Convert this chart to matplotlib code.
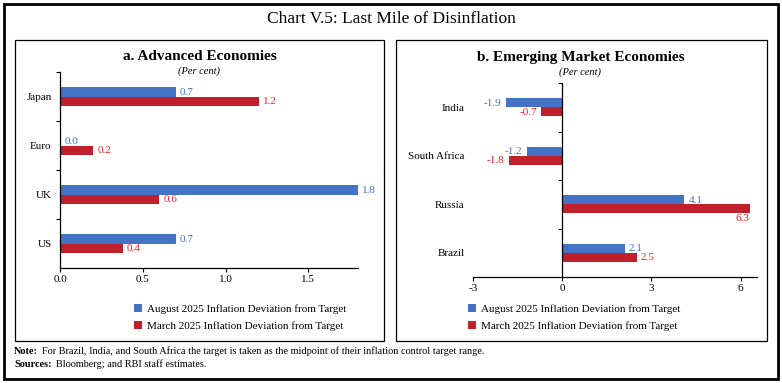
import matplotlib as mpl
import matplotlib.pyplot as plt
import numpy as np
from matplotlib.patches import Rectangle

W, H, DPI = 782, 383, 100

mpl.rcParams['font.family'] = 'serif'
mpl.rcParams['font.serif'] = ['Liberation Serif', 'DejaVu Serif']

BLUE = '#4472C4'
RED = '#C0202B'
BLUE_TXT = '#4472C4'
RED_TXT = '#F2202A'

# data
adv_countries = ['Japan', 'Euro', 'UK', 'US']
adv_aug = [0.7, 0.0, 1.8, 0.7]
adv_mar = [1.2, 0.2, 0.6, 0.38]
adv_ticks = [0.0, 0.5, 1.0, 1.5]

eme_countries = ['India', 'South Africa', 'Russia', 'Brazil']
eme_aug = [-1.9, -1.2, 4.1, 2.1]
eme_mar = [-0.7, -1.8, 6.3, 2.5]
eme_ticks = [-3, 0, 3, 6]

legend_labels = ['August 2025 Inflation Deviation from Target',
                 'March 2025 Inflation Deviation from Target']

FS = 8


def px_x(x):
    return x / W


def px_y(y):
    return 1 - y / H


def add_box(fig, x0, y0, x1, y1, lw):
    fig.patches.append(Rectangle((px_x(x0), px_y(y1)), px_x(x1) - px_x(x0),
                                 px_y(y0) - px_y(y1), transform=fig.transFigure,
                                 fill=False, edgecolor='black', linewidth=lw))


def draw_panel(ax, cats, aug, mar, ticks, xlim, fmt):
    y = np.arange(len(cats))
    bh = 0.185
    ax.barh(y - bh / 2, aug, height=bh, color=BLUE, label=legend_labels[0])
    ax.barh(y + bh / 2, mar, height=bh, color=RED, label=legend_labels[1])
    ax.set_xlim(*xlim)
    ax.set_ylim(len(cats) - 0.5, -0.5)

    for vals, off, col in ((aug, -bh / 2, BLUE_TXT), (mar, bh / 2, RED_TXT)):
        for i, v in enumerate(vals):
            txt = format(v, fmt)
            if v >= 0 and v > xlim[1] - 0.06 * (xlim[1] - xlim[0]) and col == RED_TXT:
                ax.annotate(txt, (v, i + off), xytext=(0, -4), textcoords='offset points',
                            ha='right', va='top', color=col, fontsize=FS)
            elif v >= 0:
                ax.annotate(txt, (v, i + off), xytext=(3, -0.5), textcoords='offset points',
                            ha='left', va='center', color=col, fontsize=FS)
            else:
                ax.annotate(txt, (v, i + off), xytext=(-3, -0.5), textcoords='offset points',
                            ha='right', va='center', color=col, fontsize=FS)

    ax.set_xticks(ticks)
    ax.set_xticklabels([format(t, fmt if isinstance(t, float) else 'd') for t in ticks])
    ax.set_yticks(y)
    ax.set_yticklabels(cats)
    ax.tick_params(axis='y', length=0, pad=6, labelsize=FS)
    ax.tick_params(axis='x', length=3, width=0.8, pad=2, labelsize=FS, direction='out')
    for s in ('top', 'right'):
        ax.spines[s].set_visible(False)
    ax.spines['bottom'].set_linewidth(0.9)


fig = plt.figure(figsize=(W / DPI, H / DPI), dpi=DPI)

add_box(fig, 4, 4, 778, 379, 2.0)
add_box(fig, 15, 40, 384, 341, 0.9)
add_box(fig, 396, 40, 767, 341, 0.9)

fig.text(0.5, px_y(19), 'Chart V.5: Last Mile of Disinflation', ha='center', va='center',
         fontsize=12.5)

# a. advanced economies
ax1 = fig.add_axes([px_x(60), px_y(268), px_x(358) - px_x(60), px_y(72) - px_y(268)])
draw_panel(ax1, adv_countries, adv_aug, adv_mar, adv_ticks, (0, 1.8), '.1f')
ax1.spines['left'].set_linewidth(0.9)
ax1.set_yticks([-0.5, 0.5, 1.5, 2.5], minor=True)
ax1.tick_params(axis='y', which='minor', length=3, width=0.8, direction='out')

fig.text(px_x(200), px_y(57), 'a. Advanced Economies', ha='center', va='center',
         fontsize=11, fontweight='bold')
fig.text(px_x(199), px_y(71), '(Per cent)', ha='center', va='center',
         fontsize=7.5, style='italic')

# b. emerging market economies
ax2 = fig.add_axes([px_x(473), px_y(277), px_x(757) - px_x(473), px_y(83) - px_y(277)])
draw_panel(ax2, eme_countries, eme_aug, eme_mar, eme_ticks, (-3, 6.55), '.1f')
ax2.spines['left'].set_visible(False)
ax2.axvline(0, color='black', linewidth=0.9)
ax2.plot(np.zeros(4), [-0.5, 0.5, 1.5, 2.5], ls='none', marker=0, markersize=3,
         markeredgewidth=0.8, color='black', clip_on=False)

fig.text(px_x(581), px_y(57), 'b. Emerging Market Economies', ha='center', va='center',
         fontsize=11, fontweight='bold')
fig.text(px_x(580), px_y(72), '(Per cent)', ha='center', va='center',
         fontsize=7.5, style='italic')

for ax, lx in ((ax1, 134), (ax2, 468)):
    h, l = ax.get_legend_handles_labels()
    fig.legend(h, l, loc='center left', bbox_to_anchor=(px_x(lx), px_y(317.5)),
               frameon=False, fontsize=FS, handlelength=0.7, handleheight=0.7,
               handletextpad=0.5, labelspacing=0.6, borderpad=0, borderaxespad=0)

# footnotes: bold lead-in, plain rest placed right after it
foot = [('Note:', 'For Brazil, India, and South Africa the target is taken as the midpoint '
         'of their inflation control target range.', 351),
        ('Sources:', 'Bloomberg; and RBI staff estimates.', 364.5)]
for head, rest, yy in foot:
    t = fig.text(px_x(14), px_y(yy), head, ha='left', va='center', fontsize=7.4,
                 fontweight='bold')
    fig.add_artist(mpl.text.Annotation(rest, xy=(1, 0.5), xycoords=t, xytext=(3, 0),
                                       textcoords='offset points', ha='left', va='center',
                                       fontsize=7.4))

fig.savefig('out.png', dpi=DPI)
